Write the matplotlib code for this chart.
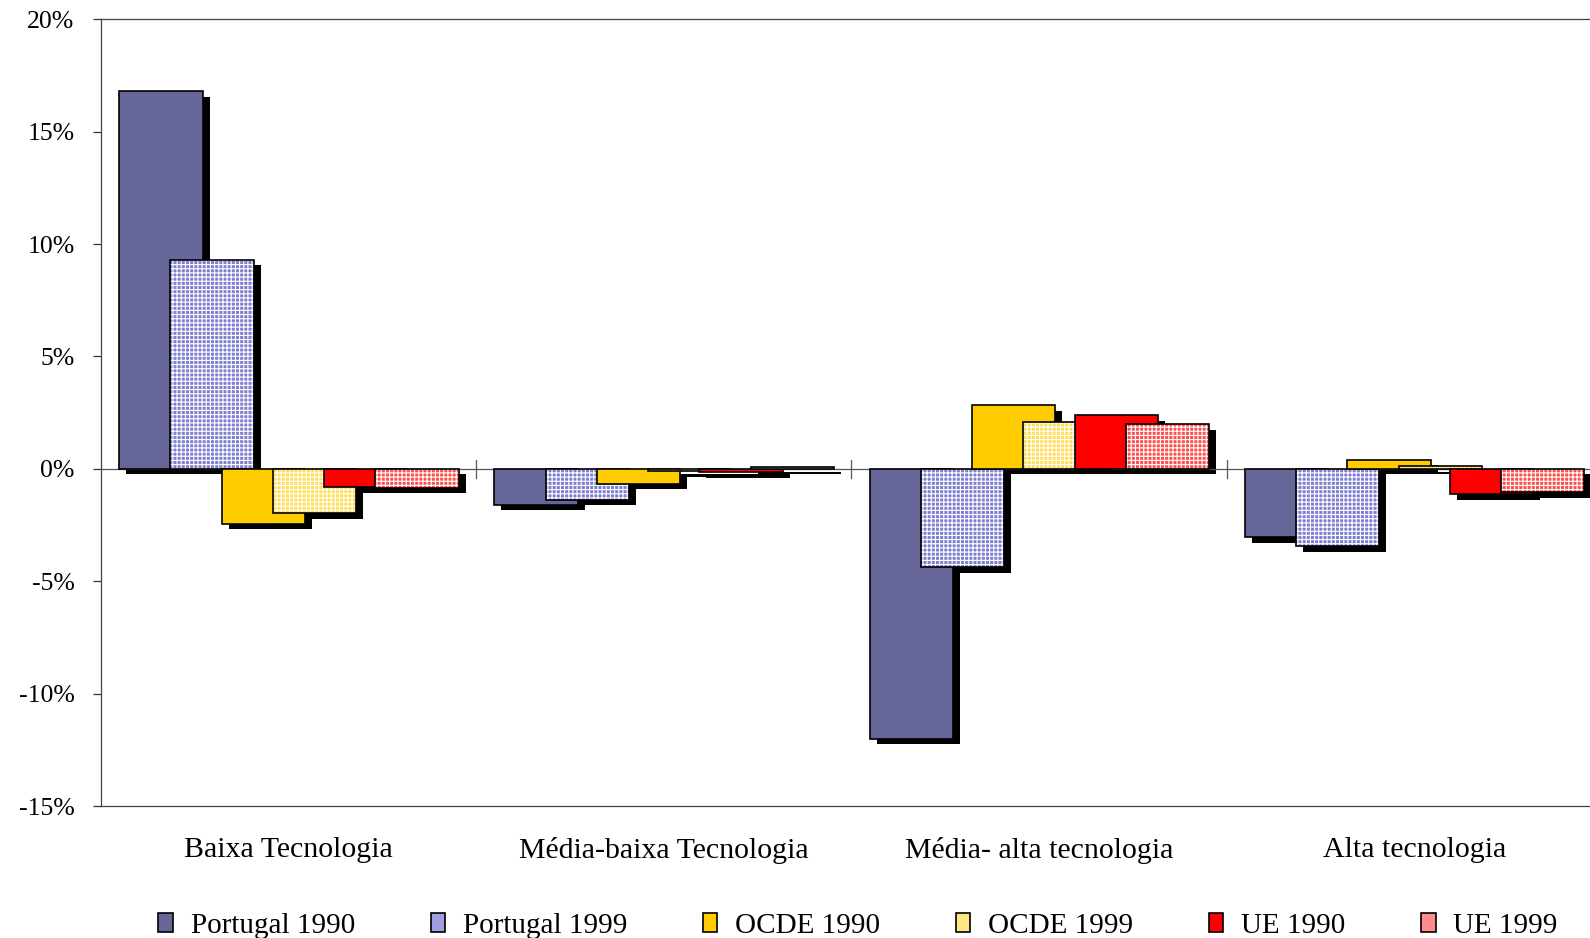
import matplotlib
matplotlib.use("Agg")
import matplotlib.pyplot as plt
import matplotlib.patches as patches
import matplotlib.transforms as mtransforms
import numpy as np

# ============================
# DATA
# ============================
categories = ["Baixa Tecnologia", "Média-baixa Tecnologia",
              "Média- alta tecnologia", "Alta tecnologia"]
series_names = ["Portugal 1990", "Portugal 1999", "OCDE 1990",
                "OCDE 1999", "UE 1990", "UE 1999"]

portugal_1990 = [16.8, -1.6, -12.0, -3.05]
portugal_1999 = [9.3, -1.38, -4.38, -3.44]
ocde_1990 = [-2.44, -0.67, 2.84, 0.4]
ocde_1999 = [-1.98, -0.1, 2.07, 0.12]
ue_1990 = [-0.81, -0.15, 2.39, -1.14]
ue_1999 = [-0.83, 0.1, 1.98, -1.04]

yticks = [-15, -10, -5, 0, 5, 10, 15, 20]

# ============================
# STYLE
# ============================
plt.rcParams["font.family"] = ["Liberation Serif", "DejaVu Serif"]
plt.rcParams["hatch.linewidth"] = 0.8

base_colors = ["#666699", "#8080d0", "#ffcc00", "#ffdd55", "#ff0000", "#ff5050"]
patterned = [False, True, False, True, False, True]
legend_colors = ["#666699", "#a0a0e0", "#ffcc00", "#ffe680", "#ff0000", "#ff8c8c"]

all_values = [portugal_1990, portugal_1999, ocde_1990, ocde_1999, ue_1990, ue_1999]

fig = plt.figure(figsize=(15.9, 9.38), dpi=100)
ax = fig.add_axes([0.0635, 0.1407, 0.944, 0.8387])

bar_w = 0.222
step = 0.1365
first_off = -0.4514
x = np.arange(len(categories))

shadow_tr = ax.transData + mtransforms.ScaledTranslation(7 / 100, -5.5 / 100, fig.dpi_scale_trans)

# shadows first
for k, vals in enumerate(all_values):
    left = x + first_off + k * step
    ax.bar(left, vals, width=bar_w, align="edge", color="black",
           edgecolor="none", transform=shadow_tr, zorder=1)

# bars
for k, vals in enumerate(all_values):
    left = x + first_off + k * step
    if patterned[k]:
        ax.bar(left, vals, width=bar_w, align="edge", color=base_colors[k],
               edgecolor="white", linewidth=0, hatch="++++", zorder=2 + k)
        ax.bar(left, vals, width=bar_w, align="edge", color="none",
               edgecolor="black", linewidth=1.2, zorder=2 + k)
    else:
        ax.bar(left, vals, width=bar_w, align="edge", color=base_colors[k],
               edgecolor="black", linewidth=1.2, zorder=2 + k)

# zero line and category separators
ax.axhline(0, color="#555555", lw=0.9, zorder=1.5)
for b in x[:-1] + 0.5:
    ax.plot([b, b], [-0.4, 0.4], color="#555555", lw=0.9, zorder=1.5)

ax.set_xlim(-0.5, 3.5)
ax.set_ylim(-15, 20)
ax.set_yticks(yticks)
ax.set_yticklabels([f"{v}%" for v in yticks], fontsize=18.5)
ax.tick_params(axis="y", direction="out", length=6, width=0.9, color="#333333", pad=13)

ax.set_xticks(x)
ax.set_xticklabels(categories, fontsize=21.5)
ax.tick_params(axis="x", length=0, pad=22)

for side in ["left", "top", "bottom", "right"]:
    ax.spines[side].set_color("#444444")
    ax.spines[side].set_linewidth(0.9)

handles = [patches.Patch(facecolor=c, edgecolor="black", linewidth=1.2) for c in legend_colors]
fig.legend(handles, series_names, loc="center", bbox_to_anchor=(0.5396, 0.013),
           ncol=6, frameon=False, fontsize=21, handlelength=0.5, handleheight=0.6,
           handletextpad=0.6, columnspacing=2.6)

fig.savefig("out.png", dpi=100)
